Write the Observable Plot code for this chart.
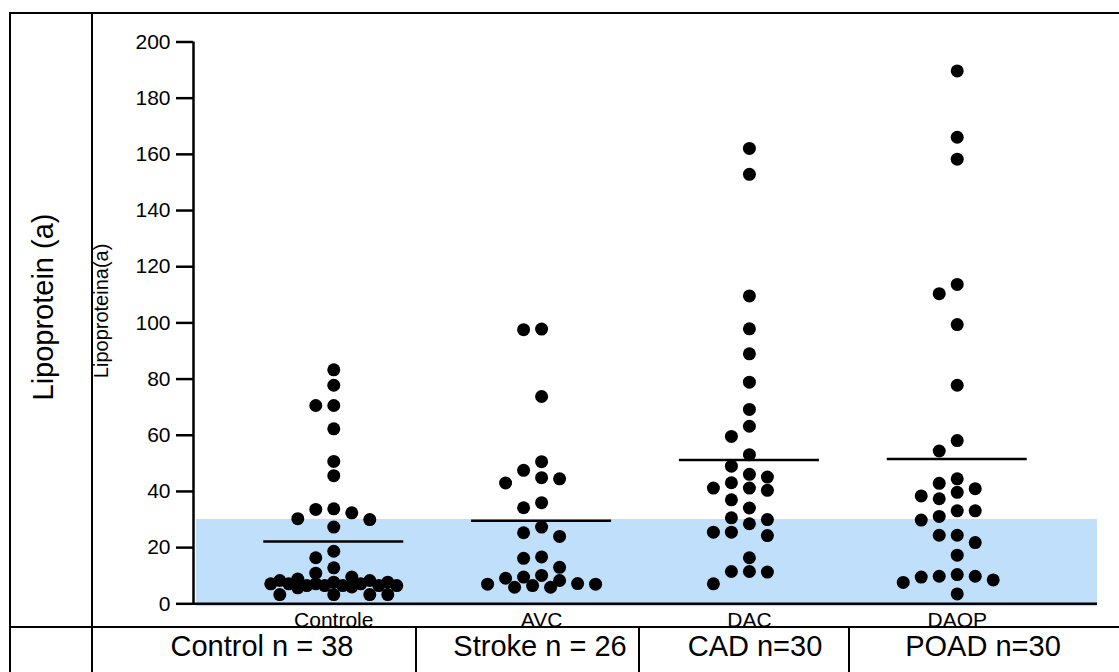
<!DOCTYPE html>
<html>
<head>
<meta charset="utf-8">
<script src="https://cdn.jsdelivr.net/npm/d3@7"></script>
<script src="https://cdn.jsdelivr.net/npm/@observablehq/plot@0.6"></script>
<style>
  body { margin: 0; background: #fff; }
  #wrap { position: relative; width: 1119px; height: 672px; overflow: hidden; background: #fff;
          font-family: "Liberation Sans", Arial, sans-serif; color: #000; }
  #chart { position: absolute; left: 0; top: 0; }
  #chart svg [aria-label="y-axis"] line,
  #chart svg [aria-label="y-axis"] path,
  #chart svg [aria-label="y-axis tick"] path { stroke-width: 2.5px; }
  .ln { position: absolute; background: #000; }
  .cover { position: absolute; background: #fff; }
  .lab { position: absolute; font-size: 29px; line-height: 19px; white-space: nowrap; transform: translateX(-50%); }
  .rot { position: absolute; font-size: 29px; line-height: 29px; white-space: nowrap;
         transform: translate(-50%, -50%) rotate(-90deg); }
</style>
</head>
<body>
<div id="wrap">
  <div id="chart"></div>
  <div class="cover" style="left:11px;top:628px;width:1108px;height:44px;"></div>
  <div class="ln" style="left:9px;top:12px;width:1110px;height:2px;"></div>
  <div class="ln" style="left:9px;top:12px;width:2px;height:660px;"></div>
  <div class="ln" style="left:91px;top:12px;width:2px;height:660px;"></div>
  <div class="ln" style="left:9px;top:626px;width:1110px;height:2px;"></div>
  <div class="ln" style="left:415px;top:626px;width:2px;height:46px;"></div>
  <div class="ln" style="left:638px;top:626px;width:2px;height:46px;"></div>
  <div class="ln" style="left:848px;top:626px;width:2px;height:46px;"></div>
  <div id="rowlabel" class="rot" style="left:43px;top:307px;"></div>
  <div id="b0" class="lab" style="left:262px;top:636.5px;"></div>
  <div id="b1" class="lab" style="left:540px;top:636.5px;"></div>
  <div id="b2" class="lab" style="left:755px;top:636.5px;"></div>
  <div id="b3" class="lab" style="left:983px;top:636.5px;"></div>
</div>
<script>
// ---- data ----
const groups = ["Controle", "AVC", "DAC", "DAOP"];
const bottomLabels = ["Control n = 38", "Stroke n = 26", "CAD n=30", "POAD n=30"];
const rowLabel = "Lipoprotein (a)";
const yLabel = "Lipoproteina(a)";
const yTicks = [0, 20, 40, 60, 80, 100, 120, 140, 160, 180, 200];
const refBand = [0, 30];

const controle = [83.3, 77.8, 70.6, 70.6, 62.3, 50.7, 45.6, 33.8, 33.6, 32.4, 30.3, 30.0, 27.3, 18.7, 16.4, 12.8,
  10.9, 9.5, 8.8, 8.3, 8.3, 7.7, 7.7, 7.1, 7.1, 7.1, 7.1, 6.5, 6.5, 6.5, 6.5, 6.5, 6.0, 5.7,
  3.3, 3.3, 3.3, 3.3];
const avc = [97.8, 97.6, 73.8, 50.6, 47.5, 44.9, 44.5, 43.0, 36.0, 34.2, 27.3, 25.3, 24.0, 16.7, 16.2, 13.0,
  10.1, 9.5, 9.1, 8.3, 7.2, 7.0, 7.0, 6.5, 5.9, 5.9];
const dac = [162.1, 152.9, 109.6, 97.9, 89.0, 78.9, 69.2, 63.2, 59.6, 53.1, 49.0, 46.1, 45.1, 43.1, 41.2, 41.2,
  40.4, 37.0, 34.1, 30.6, 30.0, 28.5, 25.5, 25.5, 24.3, 16.4, 11.5, 11.5, 11.3, 7.1];
const daop = [189.7, 166.1, 158.3, 113.7, 110.4, 99.4, 77.8, 58.1, 54.4, 44.5, 42.9, 41.0, 39.7, 38.4, 37.4,
  33.1, 33.1, 31.1, 29.8, 24.4, 24.4, 21.8, 17.3, 10.4, 9.8, 9.8, 9.5, 8.5, 7.6, 3.5];
const series = [controle, avc, dac, daop];

// ---- layout ----
const W = 1119, H = 627, ML = 193, MR = 22, MT = 41.5, MB = 23.7;
const xDomain = [-0.675, 3.675];
const yDomain = [0, 200];
const pxX = (W - ML - MR) / (xDomain[1] - xDomain[0]);
const pxY = (H - MT - MB) / (yDomain[1] - yDomain[0]);
const meanHalfWidth = 70 / pxX;

// beeswarm: prefer an 18px column grid, then half-columns, then least-overlap slot within max width
function swarm(values, D = 13, maxOff = 63) {
  const placed = [];
  const offs = new Array(values.length);
  const order = values.map((v, i) => i).sort((a, b) => values[b] - values[a]);
  const candsFor = step => {
    const out = [0];
    for (let k = 1; k * step <= maxOff; k++) out.push(-k * step, k * step);
    return out;
  };
  const passes = [candsFor(18), candsFor(9)];
  for (const i of order) {
    const py = values[i] * pxY;
    const dmin = c => placed.length ? d3.min(placed, p => Math.hypot(p.off - c, p.py - py)) : Infinity;
    let chosen = null;
    for (const cands of passes) {
      for (const c of cands) { if (dmin(c) >= D) { chosen = c; break; } }
      if (chosen !== null) break;
    }
    if (chosen === null) chosen = d3.greatest(passes[1], c => dmin(c));
    offs[i] = chosen;
    placed.push({off: chosen, py});
  }
  return offs;
}

const points = [];
const means = [];
series.forEach((vals, gi) => {
  const offs = swarm(vals);
  vals.forEach((v, j) => points.push({group: groups[gi], value: v, x: gi + offs[j] / pxX}));
  means.push({gi, mean: d3.mean(vals)});
});

const chart = Plot.plot({
  width: W, height: H,
  marginLeft: ML, marginRight: MR, marginTop: MT, marginBottom: MB,
  style: {fontFamily: '"Liberation Sans", Arial, sans-serif', fontSize: "21px", background: "transparent", color: "#000", overflow: "visible"},
  x: {domain: xDomain, ticks: [0, 1, 2, 3], tickFormat: i => groups[i], tickSize: 0, tickPadding: 8, label: null},
  y: {domain: yDomain, ticks: yTicks, tickSize: 17, tickPadding: 6, label: null, tickFormat: d => String(d)},
  marks: [
    Plot.rect([{lo: refBand[0], hi: refBand[1]}], {x1: xDomain[0], x2: xDomain[1], y1: "lo", y2: "hi", fill: "#bfdffb", insetLeft: 3, insetBottom: -3}),
    Plot.ruleY(means, {y: "mean", x1: d => d.gi - meanHalfWidth, x2: d => d.gi + meanHalfWidth, stroke: "#000", strokeWidth: 2.5}),
    Plot.dot(points, {x: "x", y: "value", r: 6.5, fill: "#000", stroke: "none"}),
    Plot.ruleY([yDomain[0]], {stroke: "#000", strokeWidth: 2.5}),
    Plot.ruleX([xDomain[0]], {y1: yDomain[0], y2: yDomain[1], stroke: "#000", strokeWidth: 2.5}),
    Plot.text([yLabel], {text: d => d, frameAnchor: "left", textAnchor: "middle", dx: -92, dy: -12, rotate: -90, fontSize: 20, fill: "#000"})
  ]
});
document.getElementById("chart").appendChild(chart);
document.getElementById("rowlabel").textContent = rowLabel;
bottomLabels.forEach((t, i) => document.getElementById("b" + i).textContent = t);
</script>
</body>
</html>
